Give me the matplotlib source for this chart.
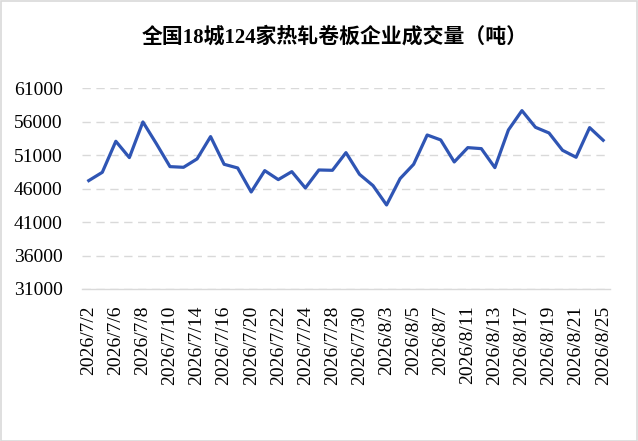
import matplotlib.pyplot as plt
from matplotlib.patches import Rectangle

# trading days 2026/7/2 - 2026/8/25
dates = ["2026/7/2", "2026/7/3", "2026/7/6", "2026/7/7", "2026/7/8", "2026/7/9",
         "2026/7/10", "2026/7/13", "2026/7/14", "2026/7/15", "2026/7/16", "2026/7/17",
         "2026/7/20", "2026/7/21", "2026/7/22", "2026/7/23", "2026/7/24", "2026/7/27",
         "2026/7/28", "2026/7/29", "2026/7/30", "2026/7/31", "2026/8/3", "2026/8/4",
         "2026/8/5", "2026/8/6", "2026/8/7", "2026/8/10", "2026/8/11", "2026/8/12",
         "2026/8/13", "2026/8/14", "2026/8/17", "2026/8/18", "2026/8/19", "2026/8/20",
         "2026/8/21", "2026/8/24", "2026/8/25"]
volume = [47200, 48440, 53080, 50640, 55970, 52700, 49290, 49190, 50440, 53780,
          49640, 49090, 45500, 48690, 47350, 48540, 46100, 48790, 48740, 51380,
          48140, 46450, 43560, 47500, 49640, 54020, 53280, 49990, 52130, 51980,
          49140, 54770, 57660, 55170, 54320, 51730, 50690, 55120, 53230]
yticks = [31000, 36000, 41000, 46000, 51000, 56000, 61000]

serif = ['Liberation Serif', 'Noto Sans CJK SC']
plt.rcParams['font.family'] = serif

fig = plt.figure(figsize=(6.38, 4.41), dpi=100)
ax = fig.add_axes([0.1285, 0.3447, 0.8275, 0.4551])

x = list(range(len(dates)))
ax.plot(x, volume, color='#2F55B4', linewidth=2.3, solid_joinstyle='round')

ax.set_xlim(-0.5, len(dates) - 0.5)
ax.set_ylim(31000, 61000)
ax.set_yticks(yticks)
ax.set_yticklabels([str(v) for v in yticks], fontsize=14)
ax.set_xticks(x[::2])
ax.set_xticklabels(dates[::2], rotation=90, fontsize=14)
ax.tick_params(axis='both', length=0, colors='black')
ax.tick_params(axis='y', pad=14)
ax.tick_params(axis='x', pad=12)

ax.grid(axis='y', color='#D9D9D9', linestyle=(0, (6, 4)), linewidth=1)
ax.set_axisbelow(True)
for s in ['top', 'right', 'left']:
    ax.spines[s].set_visible(False)
ax.spines['bottom'].set_color('#D9D9D9')
ax.spines['bottom'].set_linewidth(1)

fig.text(0.525, 0.915, "全国18城124家热轧卷板企业成交量（吨）", ha='center', va='center',
         fontsize=15, fontweight='bold', family=serif)

# outer border of the chart
fig.patches.append(Rectangle((0.001, 0.001), 0.997, 0.997, transform=fig.transFigure,
                             fill=False, edgecolor='#D9D9D9', linewidth=1.2))

fig.savefig('out.png', dpi=100)
